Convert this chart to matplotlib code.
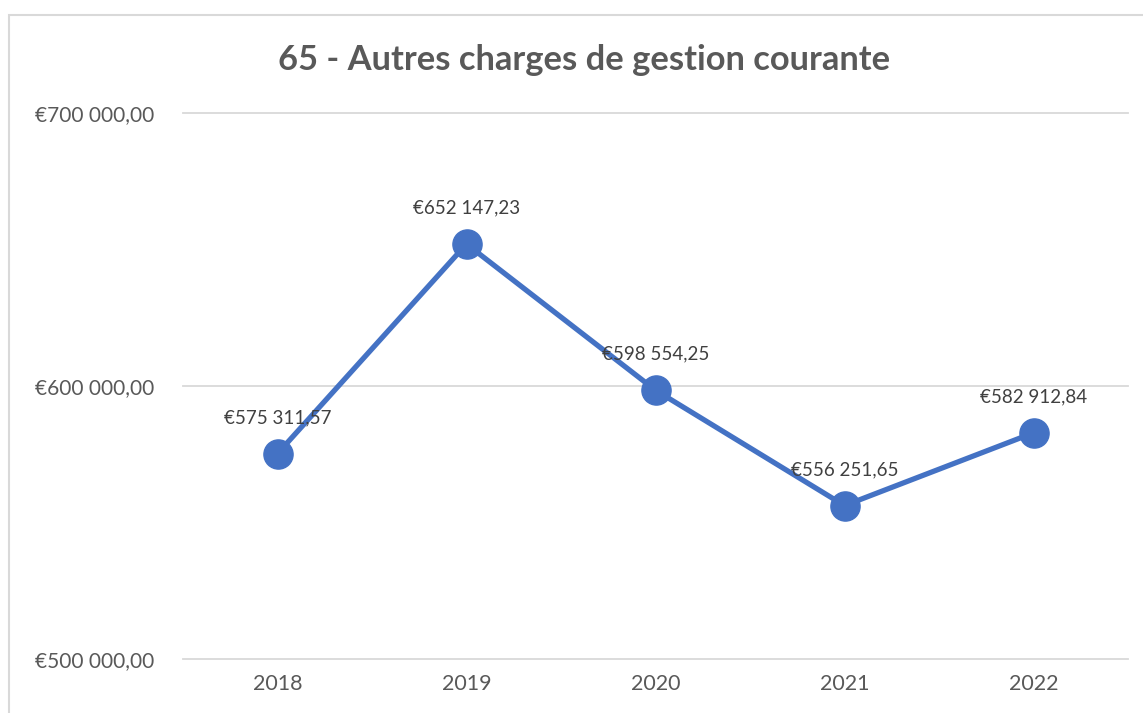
import matplotlib.pyplot as plt
from matplotlib.patches import Rectangle

years = ['2018', '2019', '2020', '2021', '2022']
values = [575311.57, 652147.23, 598554.25, 556251.65, 582912.84]
yticks = [500000, 600000, 700000]

def euro(v):
    s = f"{v:,.2f}"
    s = s.replace(',', ' ').replace('.', ',')
    return '€' + s

plt.rcParams['font.family'] = ['Lato', 'DejaVu Sans']

fig = plt.figure(figsize=(11.43, 7.13), dpi=100)
ax = fig.add_axes([183/1143, 1-659/713, (1128-183)/1143, (659-113.5)/713])

# chart border
fig.patches.append(Rectangle((9/1143, -0.1), 1.2, 1-15/713+0.1, transform=fig.transFigure,
                             fill=False, edgecolor='#d9d9d9', linewidth=1.5))

x = range(len(years))
ax.plot(x, values, color='#4472C4', linewidth=3.8, marker='o', markersize=21,
        solid_capstyle='round', zorder=3)
for xi, v in zip(x, values):
    ax.annotate(euro(v), (xi, v), xytext=(0, 26), textcoords='offset points',
                ha='center', va='center', fontsize=13.5, color='#404040', zorder=4)

ax.set_xlim(-0.5, len(years) - 0.5)
ax.set_ylim(500000, 700000)
ax.set_yticks(yticks)
ax.set_yticklabels([euro(t) for t in yticks])
ax.set_xticks(list(x))
ax.set_xticklabels(years)
ax.tick_params(axis='y', length=0, labelsize=15, colors='#595959', pad=21)
ax.tick_params(axis='x', length=0, labelsize=15.5, colors='#595959', pad=11)
for t in yticks:
    ax.axhline(t, color='#d9d9d9', linewidth=1.3, zorder=0, clip_on=False)
for s in ax.spines.values():
    s.set_visible(False)

fig.text(0.511, 1-60/713, '65 - Autres charges de gestion courante', ha='center', va='center',
         fontsize=24.8, fontweight='bold', color='#595959')

fig.savefig('out.png', dpi=100)
